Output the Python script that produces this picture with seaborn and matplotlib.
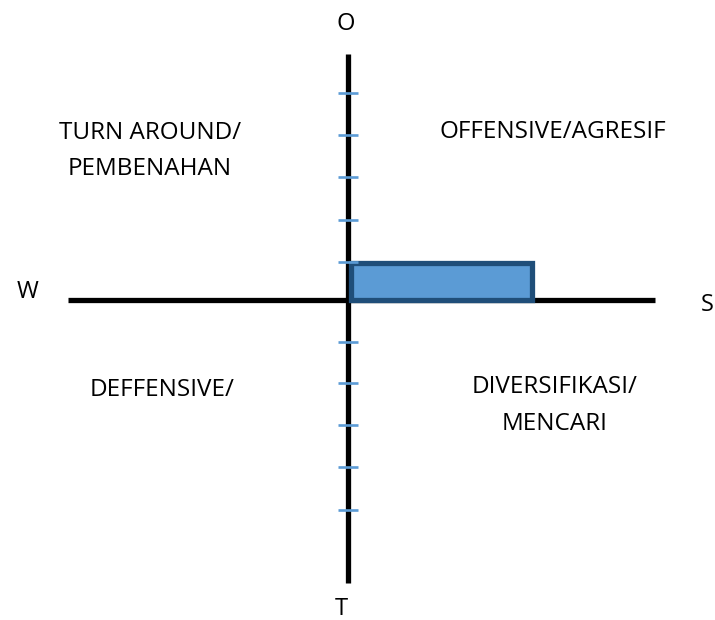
import matplotlib
matplotlib.use("Agg")
import matplotlib.pyplot as plt
import seaborn as sns

# diagram units: 1 unit = one tick step on the vertical axis
x_axis_span = [-6.67, 7.31]
y_axis_span = [-6.74, 5.86]
tick_y = [4.93, 3.93, 2.93, 1.90, 0.90, -1.0, -1.98, -2.98, -3.98, -5.0]

# position box (S-W on x, O-T on y)
box_x = 0.06
box_width = 4.33
box_height = 0.88

axis_labels = ["O", "T", "W", "S"]
axis_label_x = [-0.06, -0.17, -7.64, 8.56]
axis_label_y = [6.57, -7.36, 0.19, -0.13]

quadrant_labels = ["TURN AROUND/\nPEMBENAHAN", "OFFENSIVE/AGRESIF",
                   "DEFFENSIVE/", "DIVERSIFIKASI/\nMENCARI"]
quadrant_x = [-4.71, 4.88, -4.43, 4.91]
quadrant_y = [3.54, 4.0, -2.14, -2.51]

sns.set_theme(style="white")
plt.rcParams['font.family'] = ['Open Sans', 'DejaVu Sans']

fig = plt.figure(figsize=(7.15, 6.2), dpi=100)
ax = fig.add_axes([0, 0, 1, 1])
ax.set_xlim(-348 / 42, (715 - 348) / 42)
ax.set_ylim(-(620 - 300) / 42, 300 / 42)
ax.axis("off")

ax.bar(box_x, box_height, width=box_width, align="edge", bottom=0,
       color="#5B9BD5", edgecolor="#1F4E79", linewidth=3.8, zorder=3)

ax.hlines(0, x_axis_span[0], x_axis_span[1], color="black", linewidth=3.8, zorder=2)
ax.vlines(0, y_axis_span[0], y_axis_span[1], color="black", linewidth=3.8, zorder=2)
ax.hlines(tick_y, -0.24, 0.24, color="#5B9BD5", linewidth=1.9, zorder=4)

for lab, x, y in zip(axis_labels, axis_label_x, axis_label_y):
    ax.text(x, y, lab, ha="center", va="center", fontsize=17, color="black")

for lab, x, y in zip(quadrant_labels, quadrant_x, quadrant_y):
    ax.text(x, y, lab, ha="center", va="center", fontsize=17.5,
            linespacing=1.68, color="black")

fig.savefig("out.png", dpi=100)
plt.close(fig)
